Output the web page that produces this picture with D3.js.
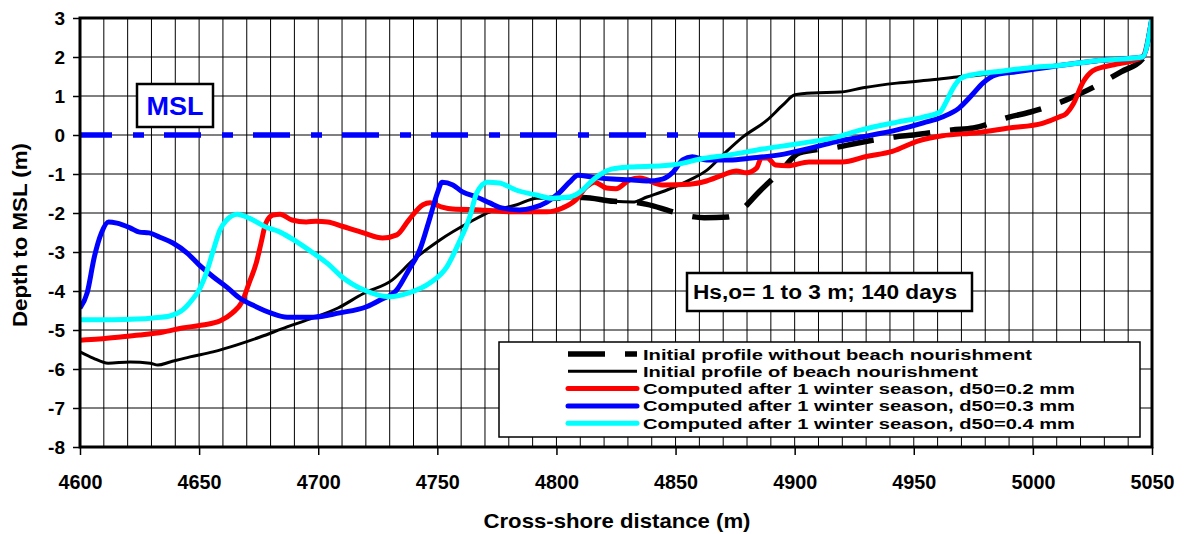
<!DOCTYPE html>
<html>
<head>
<meta charset="utf-8">
<title>Cross-shore profiles</title>
<script src="https://cdn.jsdelivr.net/npm/d3@7"></script>
<style>
  body { margin: 0; background: #fff; }
  svg text { font-family: "Liberation Sans", Arial, sans-serif; font-weight: bold; }
</style>
</head>
<body>
<svg id="svg"></svg>
<script>
// profile data (distance in m, depth to MSL in m)
var noNourishX = [4797, 4802.8, 4811, 4824, 4832,
  4838, 4847.7, 4855, 4862, 4872, 4878, 4885, 4893.8, 4902, 4918, 4926, 4942, 4950, 4966, 4975, 4990, 4999, 5014, 5023, 5037, 5046, 5050];
var noNourishZ = [-1.62, -1.62, -1.6, -1.7, -1.72,
  -1.78, -1.95, -2.07, -2.12, -2.1, -1.9, -1.46, -0.95, -0.46, -0.31, -0.21, -0.05, 0.0, 0.13, 0.18, 0.46, 0.59, 0.9, 1.15, 1.62, 1.95, 2.6];

var nourishX = [4600, 4605.5, 4611.8, 4621, 4629.4, 4632.7, 4637.8, 4646.2, 4655.8, 4665.9, 4675.6, 4686.9, 4697.8, 4708.5, 4718.8, 4731, 4739.8, 4751.1, 4763.7, 4772.1, 4783.4, 4791.8, 4802.8, 4811, 4824, 4832,
  4838, 4846.4, 4856, 4863.2, 4869.9, 4878.3, 4888.4, 4895.1, 4900.1, 4907.7, 4919, 4928.7, 4942.9, 4956.8, 4968.1, 4975, 4985, 5000, 5020, 5046, 5050];
var nourishZ = [-5.56, -5.72, -5.85, -5.82, -5.85, -5.9, -5.82, -5.69, -5.56, -5.38, -5.18, -4.92, -4.69, -4.43, -4.07, -3.72, -3.21, -2.69, -2.23, -1.97, -1.79, -1.62, -1.62, -1.6, -1.7, -1.72,
  -1.59, -1.41, -1.15, -0.9, -0.51, -0.05, 0.38, 0.77, 1.03, 1.08, 1.1, 1.21, 1.33, 1.41, 1.49, 1.52, 1.6, 1.72, 1.85, 2.0, 3.0];

var redX = [4600, 4608, 4617, 4625, 4635, 4643, 4651.5, 4658.7, 4664, 4668, 4671, 4674, 4676, 4678, 4681, 4684, 4689, 4695, 4699, 4704, 4710, 4719, 4727, 4733, 4738, 4744, 4747, 4752, 4756.5, 4768, 4782, 4796,
  4802.6, 4808, 4812.6, 4816, 4821, 4825, 4830.7, 4835, 4844.5, 4856, 4863, 4869.7, 4875.5, 4879.7, 4884, 4886, 4888.5, 4892, 4897, 4906, 4920, 4930, 4941, 4952, 4962, 4976.5, 4990, 5004, 5011,
  5014, 5017, 5021, 5025, 5030, 5034, 5046, 5050];
var redZ = [-5.26, -5.23, -5.18, -5.13, -5.05, -4.95, -4.87, -4.77, -4.56, -4.28, -3.79, -3.28, -2.77, -2.26, -2.05, -2.03, -2.18, -2.23, -2.21, -2.23, -2.34, -2.51, -2.64, -2.56, -2.18, -1.79, -1.74, -1.85, -1.9, -1.92, -1.97, -1.97,
  -1.87, -1.67, -1.33, -1.21, -1.36, -1.38, -1.15, -1.1, -1.28, -1.26, -1.18, -1.03, -0.92, -0.97, -0.85, -0.59, -0.59, -0.77, -0.79, -0.69, -0.69, -0.55, -0.42, -0.15, -0.02, 0.06, 0.18, 0.3, 0.46,
  0.55, 0.8, 1.35, 1.64, 1.75, 1.8, 2.0, 3.0];

var blueX = [4600, 4603, 4606, 4609, 4612, 4615.5, 4621, 4625, 4629, 4633.5, 4639, 4645, 4650, 4656, 4662, 4667, 4672.5, 4680, 4687, 4698, 4709, 4720, 4726, 4733, 4738, 4742.6, 4747, 4750, 4752, 4756.5, 4760.6,
  4766.5, 4772, 4777, 4784.5, 4790, 4796, 4801, 4805.5, 4809, 4815, 4823.5, 4830.7, 4838, 4844.5, 4849, 4853, 4857, 4863, 4872.6, 4882, 4893.6, 4907, 4919, 4928, 4943, 4954, 4962, 4969, 4974.5,
  4979, 4984.5, 4993, 5012, 5026, 5046, 5050];
var blueZ = [-4.44, -4.05, -3.13, -2.51, -2.23, -2.26, -2.38, -2.49, -2.51, -2.62, -2.77, -3.03, -3.33, -3.64, -3.92, -4.18, -4.36, -4.56, -4.67, -4.67, -4.56, -4.41, -4.23, -3.97, -3.46, -2.95, -2.1, -1.49, -1.21, -1.28, -1.46,
  -1.59, -1.74, -1.87, -1.92, -1.87, -1.72, -1.49, -1.21, -1.03, -1.08, -1.13, -1.15, -1.18, -1.13, -0.95, -0.64, -0.56, -0.64, -0.64, -0.59, -0.51, -0.33, -0.15, -0.05, 0.13, 0.31, 0.46, 0.69, 1.03,
  1.33, 1.54, 1.62, 1.79, 1.9, 2.0, 3.0];

var cyanX = [4600, 4614, 4624, 4630.6, 4637.7, 4643, 4647, 4650, 4653, 4656, 4658.7, 4661.6, 4666, 4671, 4678, 4684, 4691, 4698, 4704, 4710, 4719, 4730, 4738, 4747, 4754, 4759, 4763.6, 4766.5, 4771, 4776,
  4783, 4791.6, 4798, 4805.5, 4811, 4814, 4818, 4823.5, 4830.7, 4844.5, 4851.6, 4860, 4872.6, 4886.5, 4900.7, 4917, 4928, 4943, 4954, 4961, 4963.6, 4966, 4970, 4976, 4984.5, 4998, 5012, 5026, 5046, 5050];
var cyanZ = [-4.74, -4.74, -4.72, -4.69, -4.64, -4.49, -4.23, -3.97, -3.54, -2.95, -2.44, -2.18, -2.03, -2.13, -2.36, -2.49, -2.74, -3.03, -3.3, -3.64, -3.97, -4.15, -4.05, -3.79, -3.38, -2.77, -2.1, -1.49, -1.21, -1.23,
  -1.41, -1.54, -1.62, -1.59, -1.41, -1.23, -1.03, -0.87, -0.82, -0.79, -0.74, -0.62, -0.51, -0.36, -0.23, -0.06, 0.13, 0.33, 0.46, 0.59, 0.85, 1.15, 1.46, 1.56, 1.62, 1.72, 1.79, 1.9, 2.0, 3.0];

var mslX = [4600, 4875];
var mslZ = [0, 0];

var xTicks = [4600, 4650, 4700, 4750, 4800, 4850, 4900, 4950, 5000, 5050];
var yTicks = [-8, -7, -6, -5, -4, -3, -2, -1, 0, 1, 2, 3];

var legendLabels = [
  "Initial profile without beach nourishment",
  "Initial profile of beach nourishment",
  "Computed after 1 winter season, d50=0.2 mm",
  "Computed after 1 winter season, d50=0.3 mm",
  "Computed after 1 winter season, d50=0.4 mm"
];

var width = 1190, height = 534,
    _margins = {top: 18, left: 80, right: 38, bottom: 87};
var plotW = width - _margins.left - _margins.right,
    plotH = height - _margins.top - _margins.bottom;

var svg = d3.select("#svg").attr("width", width).attr("height", height);

var scaleX = d3.scaleLinear().domain([4600, 5050]).range([_margins.left, _margins.left + plotW]);
var scaleY = d3.scaleLinear().domain([-8, 3]).range([_margins.top + plotH, _margins.top]);

// grid
var gridG = svg.append("g");
gridG.selectAll("line.vx")
  .data(d3.range(4610, 5050, 10))
  .enter().append("line")
  .attr("x1", function(d) { return scaleX(d); })
  .attr("x2", function(d) { return scaleX(d); })
  .attr("y1", scaleY(3)).attr("y2", scaleY(-8))
  .attr("stroke", "#000").attr("stroke-width", 1);
gridG.selectAll("line.hy")
  .data(yTicks)
  .enter().append("line")
  .attr("x1", scaleX(4600)).attr("x2", scaleX(5050))
  .attr("y1", function(d) { return scaleY(d); })
  .attr("y2", function(d) { return scaleY(d); })
  .attr("stroke", "#000").attr("stroke-width", 1);

//Y axis
var axisY = d3.axisLeft(scaleY).tickValues(yTicks).tickSize(7).tickPadding(8)
  .tickFormat(function(d) { return String(d); });
var gy = svg.append("g").attr("transform", "translate(" + _margins.left + ",0)").call(axisY);
gy.select(".domain").remove();
gy.selectAll("line").attr("stroke", "#000").attr("stroke-width", 1.5);
gy.selectAll("text").style("font-size", "19px").attr("fill", "#000");

//X axis
var axisX = d3.axisBottom(scaleX).tickValues(xTicks).tickSize(8).tickPadding(19)
  .tickFormat(function(d) { return String(d); });
var gx = svg.append("g").attr("transform", "translate(0," + (_margins.top + plotH) + ")").call(axisX);
gx.select(".domain").remove();
gx.selectAll("line").attr("stroke", "#000").attr("stroke-width", 1.5);
gx.selectAll("text").style("font-size", "21px").attr("fill", "#000")
  .attr("textLength", 44).attr("lengthAdjust", "spacingAndGlyphs");

// axis titles
svg.append("text")
  .attr("x", 617).attr("y", 528)
  .style("text-anchor", "middle").style("font-size", "21px")
  .attr("textLength", 267).attr("lengthAdjust", "spacingAndGlyphs")
  .text("Cross-shore distance (m)");

svg.append("text")
  .attr("transform", "translate(27,235)rotate(-90)")
  .style("text-anchor", "middle").style("font-size", "20px")
  .attr("textLength", 184).attr("lengthAdjust", "spacingAndGlyphs")
  .text("Depth to MSL (m)");

// clip for curves
svg.append("clipPath").attr("id", "clip")
  .append("rect").attr("x", _margins.left).attr("y", _margins.top).attr("width", plotW).attr("height", plotH);

var line = d3.line()
  .x(function(d) { return scaleX(d[0]); })
  .y(function(d) { return scaleY(d[1]); })
  .curve(d3.curveMonotoneX);

function pairs(xs, zs) { return xs.map(function(x, i) { return [x, zs[i]]; }); }

var bodyG = svg.append("g").attr("clip-path", "url(#clip)");

// MSL line
bodyG.append("path")
  .attr("d", d3.line().x(function(d) { return scaleX(d[0]); }).y(function(d) { return scaleY(d[1]); })(pairs(mslX, mslZ)))
  .attr("fill", "none").attr("stroke", "#0000ff").attr("stroke-width", 5.5)
  .attr("stroke-dasharray", "37,21,11,20").attr("stroke-dashoffset", 5);

var series = [
  {x: noNourishX, z: noNourishZ, color: "#000", w: 5.5, dash: "37,20"},
  {x: nourishX, z: nourishZ, color: "#000", w: 3, dash: null},
  {x: redX, z: redZ, color: "#ff0000", w: 5, dash: null},
  {x: blueX, z: blueZ, color: "#0000ff", w: 5, dash: null},
  {x: cyanX, z: cyanZ, color: "#00ffff", w: 5, dash: null}
];

series.forEach(function(s) {
  var p = bodyG.append("path")
    .attr("d", line(pairs(s.x, s.z)))
    .attr("fill", "none")
    .attr("stroke", s.color)
    .attr("stroke-width", s.w)
    .attr("stroke-linejoin", "round")
    .attr("stroke-dasharray", s.dash);
  if (s.dash) {
    // start a dash where the profile reaches 4857 m
    var node = p.node(), total = node.getTotalLength(), target = scaleX(4857), lo = 0, hi = total;
    for (var k = 0; k < 40; k++) {
      var mid = (lo + hi) / 2;
      if (node.getPointAtLength(mid).x < target) lo = mid; else hi = mid;
    }
    p.attr("stroke-dashoffset", (57 - lo % 57) % 57);
  }
});

// plot border
svg.append("rect")
  .attr("x", _margins.left).attr("y", _margins.top)
  .attr("width", plotW).attr("height", plotH)
  .attr("fill", "none").attr("stroke", "#000").attr("stroke-width", 3);

// MSL label
svg.append("rect").attr("x", 137).attr("y", 84).attr("width", 76).attr("height", 43)
  .attr("fill", "#fff").attr("stroke", "#000").attr("stroke-width", 2.5);
svg.append("text").attr("x", 175).attr("y", 115)
  .style("text-anchor", "middle").style("font-size", "25px").attr("fill", "#0000ff")
  .attr("textLength", 57).attr("lengthAdjust", "spacingAndGlyphs")
  .text("MSL");

// wave condition label
svg.append("rect").attr("x", 687).attr("y", 273).attr("width", 285).attr("height", 38)
  .attr("fill", "#fff").attr("stroke", "#000").attr("stroke-width", 2.5);
svg.append("text").attr("x", 693).attr("y", 299)
  .style("font-size", "20px")
  .attr("textLength", 264).attr("lengthAdjust", "spacingAndGlyphs")
  .text("Hs,o= 1 to 3 m; 140 days");

//legend
var legG = svg.append("g");
legG.append("rect").attr("x", 499).attr("y", 342).attr("width", 641).attr("height", 95)
  .attr("fill", "#fff").attr("stroke", "#000").attr("stroke-width", 1.5);

var legLen = [389, 335, 432, 432, 432];
series.forEach(function(s, i) {
  var yy = 354 + i * 17.3;
  legG.append("line")
    .attr("x1", 568).attr("x2", 637).attr("y1", yy).attr("y2", yy)
    .attr("stroke", s.color).attr("stroke-width", s.w)
    .attr("stroke-linecap", s.dash || s.w < 4 ? "butt" : "round")
    .attr("stroke-dasharray", s.dash);
  legG.append("text")
    .attr("x", 643).attr("y", yy + 5.5)
    .style("font-size", "15px")
    .attr("textLength", legLen[i]).attr("lengthAdjust", "spacingAndGlyphs")
    .text(legendLabels[i]);
});
</script>
</body>
</html>
